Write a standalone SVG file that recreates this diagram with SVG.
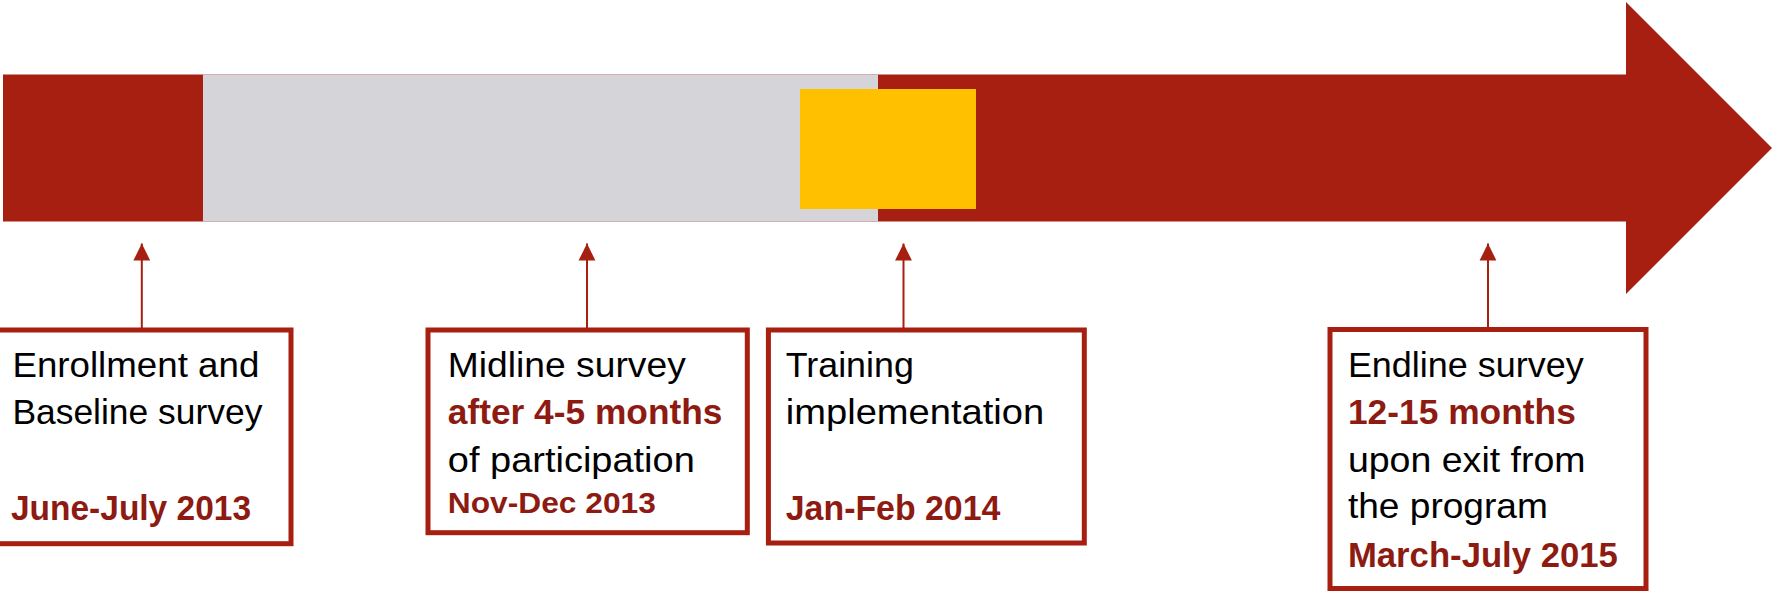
<svg xmlns="http://www.w3.org/2000/svg" width="1773" height="592" viewBox="0 0 1773 592">
  <style>
    .box { fill: #ffffff; stroke: #A61F11; stroke-width: 5; }
    .lead { stroke: #A61F11; stroke-width: 2; fill: none; }
    .t { font-family: "Liberation Sans", Arial, sans-serif; font-size: 35px; fill: #000000; }
    .b { font-family: "Liberation Sans", Arial, sans-serif; font-size: 35px; font-weight: bold; fill: #8E1B12; }
    .bs { font-size: 29px; }
  </style>
  <defs>
    <marker id="head" markerUnits="userSpaceOnUse" markerWidth="18" markerHeight="18" viewBox="0 0 18 18" refX="17" refY="9" orient="auto">
      <path d="M0,0.6 L17,9 L0,17.4 Z" fill="#A61F11"/>
    </marker>
  </defs>

  <!-- timeline arrow -->
  <g id="timeline">
    <polygon points="3,74.5 1626,74.5 1626,2 1772,148 1626,294 1626,221.5 3,221.5" fill="#A61F11"/>
    <rect x="203" y="74.5" width="675" height="147" fill="#D5D4D9"/>
    <rect x="800" y="89" width="176" height="120" fill="#FFC000"/>
  </g>

  <!-- pointers from boxes up to the timeline -->
  <g id="connectors">
    <line class="lead" x1="141.8" y1="328" x2="141.8" y2="243.5" marker-end="url(#head)"/>
    <line class="lead" x1="587" y1="328" x2="587" y2="243.5" marker-end="url(#head)"/>
    <line class="lead" x1="903.5" y1="328" x2="903.5" y2="243.5" marker-end="url(#head)"/>
    <line class="lead" x1="1488" y1="328" x2="1488" y2="243.5" marker-end="url(#head)"/>
  </g>

  <g id="baseline">
    <rect class="box" x="-3" y="330" width="294" height="213.7"/>
    <text class="t" x="12.4" y="376.7" textLength="247" lengthAdjust="spacingAndGlyphs">Enrollment and</text>
    <text class="t" x="12.4" y="424" textLength="250" lengthAdjust="spacingAndGlyphs">Baseline survey</text>
    <text class="b" x="11" y="520" textLength="240" lengthAdjust="spacingAndGlyphs">June-July 2013</text>
  </g>

  <g id="midline">
    <rect class="box" x="428" y="330" width="319.3" height="202.7"/>
    <text class="t" x="447.8" y="376.7" textLength="238" lengthAdjust="spacingAndGlyphs">Midline survey</text>
    <text class="b" x="447.8" y="424" textLength="274.6" lengthAdjust="spacingAndGlyphs">after 4-5 months</text>
    <text class="t" x="447.8" y="471.7" textLength="247" lengthAdjust="spacingAndGlyphs">of participation</text>
    <text class="b bs" x="447.8" y="513.3" textLength="208" lengthAdjust="spacingAndGlyphs">Nov-Dec 2013</text>
  </g>

  <g id="training">
    <rect class="box" x="768.4" y="330" width="315.9" height="213"/>
    <text class="t" x="785.8" y="376.7" textLength="128" lengthAdjust="spacingAndGlyphs">Training</text>
    <text class="t" x="785.8" y="424" textLength="258.4" lengthAdjust="spacingAndGlyphs">implementation</text>
    <text class="b" x="785.8" y="520" textLength="214.5" lengthAdjust="spacingAndGlyphs">Jan-Feb 2014</text>
  </g>

  <g id="endline">
    <rect class="box" x="1330" y="329.5" width="316" height="259"/>
    <text class="t" x="1347.9" y="376.7" textLength="235.8" lengthAdjust="spacingAndGlyphs">Endline survey</text>
    <text class="b" x="1347.9" y="424" textLength="228" lengthAdjust="spacingAndGlyphs">12-15 months</text>
    <text class="t" x="1347.9" y="471.7" textLength="237.7" lengthAdjust="spacingAndGlyphs">upon exit from</text>
    <text class="t" x="1347.9" y="518.3" textLength="200" lengthAdjust="spacingAndGlyphs">the program</text>
    <text class="b" x="1347.9" y="566.7" textLength="270" lengthAdjust="spacingAndGlyphs">March-July 2015</text>
  </g>
</svg>
